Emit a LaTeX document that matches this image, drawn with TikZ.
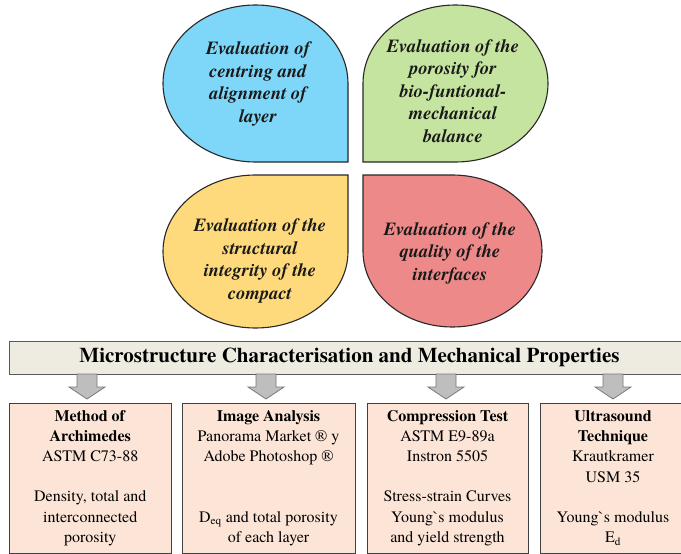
\documentclass[tikz,border=0pt]{standalone}
\usepackage{fontspec}
\IfFontExistsTF{texgyretermes-regular.otf}{%
  \setmainfont{texgyretermes-regular.otf}[BoldFont=texgyretermes-bold.otf, ItalicFont=texgyretermes-italic.otf, BoldItalicFont=texgyretermes-bolditalic.otf]}{%
  \setmainfont{DejaVu Serif}}
\definecolor{petblue}{RGB}{126,214,248}
\definecolor{petgreen}{RGB}{197,228,160}
\definecolor{petyellow}{RGB}{255,218,124}
\definecolor{petred}{RGB}{237,137,137}
\definecolor{bannerfill}{RGB}{238,236,225}
\definecolor{boxfill}{RGB}{252,228,214}
\definecolor{arrowfill}{RGB}{190,190,190}
\definecolor{arrowline}{RGB}{120,120,120}
\definecolor{edgedark}{RGB}{40,40,40}
\begin{document}
\begin{tikzpicture}[x=1pt,y=-1pt,
  petal/.style={draw=edgedark, line width=1.1pt},
  pettext/.style={align=center, inner sep=0pt, font=\fontsize{18.5}{22.5}\selectfont\bfseries\itshape, text=black!90},
  bannerst/.style={draw=black!65, line width=1pt, fill=bannerfill, inner sep=0pt, minimum width=681pt, minimum height=33pt, font=\fontsize{21}{24}\selectfont\bfseries},
  boxst/.style={draw=black!75, line width=1pt, fill=boxfill, inner sep=0pt, minimum height=150pt, align=center, font=\fontsize{16}{20.2}\selectfont},
  arrowst/.style={draw=arrowline, line width=0.8pt, fill=arrowfill},
  blockarrow/.pic={\draw[arrowst] (-10,0) -- (-10,13) -- (-18,13) -- (0,25) -- (18,13) -- (10,13) -- (10,0) -- cycle;}
]
\clip (0,0) rectangle (681,554);
\fill[white] (0,0) rectangle (681,554);

% petals
\draw[petal, fill=petblue] (348,83.5) -- (348,162) -- (255.5,162)
  arc[start angle=90, end angle=360, x radius=92.5, y radius=78.5] -- cycle;
\draw[petal, fill=petgreen] (363,83.5) -- (363,162) -- (455.5,162)
  arc[start angle=90, end angle=-180, x radius=92.5, y radius=78.5] -- cycle;
\draw[petal, fill=petyellow] (348,251.5) -- (348,175) -- (255.5,175)
  arc[start angle=-90, end angle=-360, x radius=92.5, y radius=76.5] -- cycle;
\draw[petal, fill=petred] (363,251) -- (363,175) -- (452.5,175)
  arc[start angle=-90, end angle=180, x radius=89.5, y radius=76] -- cycle;

\node[pettext] (tblue) at (258,84) {Evaluation of\\centring and\\alignment of\\layer};
\node[pettext] (tgreen) at (453,91) {Evaluation of the\\porosity for\\bio-funtional-\\mechanical\\balance};
\node[pettext] (tyellow) at (260,261) {Evaluation of the\\structural\\integrity of the\\compact};
\node[pettext] (tred) at (450,253) {Evaluation of the\\quality of the\\interfaces};

% banner
\node[bannerst] (banner) at (349.5,357.5) {Microstructure Characterisation and Mechanical Properties};

% boxes
\node[boxst, minimum width=161.5pt] (b1) at (90.25,478) {\textbf{Method of}\\\textbf{Archimedes}\\ASTM C73-88\\\mbox{}\\Density, total and\\interconnected\\porosity};
\node[boxst, minimum width=173pt] (b2) at (268.5,478) {\textbf{Image Analysis}\\Panorama Market ® y\\Adobe Photoshop ®\\\mbox{}\\\mbox{}\\D\textsubscript{eq} and total porosity\\of each layer};
\node[boxst, minimum width=161pt] (b3) at (447.5,478) {\textbf{Compression Test}\\ASTM E9-89a\\Instron 5505\\\mbox{}\\Stress-strain Curves\\Young\textasciigrave s modulus\\and yield strength};
\node[boxst, minimum width=146pt] (b4) at (613,478) {\textbf{Ultrasound}\\\textbf{Technique}\\Krautkramer\\USM 35\\\mbox{}\\Young\textasciigrave s modulus\\E\textsubscript{d}};

% arrows from banner to boxes
\pic (a1) at (87,374) {blockarrow};
\pic (a2) at (266,374) {blockarrow};
\pic (a3) at (446,374) {blockarrow};
\pic (a4) at (613,374) {blockarrow};
\end{tikzpicture}
\end{document}
